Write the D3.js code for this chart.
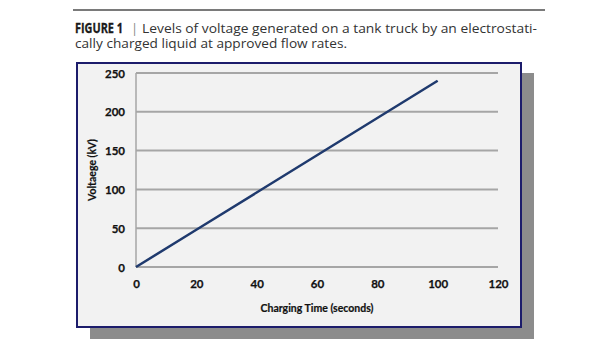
<!DOCTYPE html>
<html>
<head>
<meta charset="utf-8">
<script src="https://cdn.jsdelivr.net/npm/d3@7/dist/d3.min.js"></script>
<style>
  html, body { margin: 0; padding: 0; background: #ffffff; }
  svg { display: block; }
</style>
</head>
<body>
<svg id="chart" width="615" height="350"></svg>
<script>
// Charging time (s) and generated voltage (kV)
const chargingTime = [0, 20, 40, 60, 80, 100];
const voltage = [0, 48, 96, 144, 192, 240];
const xTicks = [0, 20, 40, 60, 80, 100, 120];
const yTicks = [0, 50, 100, 150, 200, 250];

const captionBold = "FIGURE 1";
const captionLine1 = "Levels of voltage generated on a tank truck by an electrostati-";
const captionLine2 = "cally charged liquid at approved flow rates.";
const xTitle = "Charging Time (seconds)";
const yTitle = "Voltaege (kV)";

const svg = d3.select("#chart");

// Rule above the caption
svg.append("line")
  .attr("x1", 73).attr("x2", 545).attr("y1", 10).attr("y2", 10)
  .attr("stroke", "#7a7a7a").attr("stroke-width", 2);

// Caption
const cap = svg.append("g").attr("font-family", "'Open Sans', sans-serif").attr("fill", "#333");
cap.append("text").attr("x", 75).attr("y", 33)
  .attr("font-weight", 700).attr("font-size", 13.5).attr("fill", "#1a1a1a")
  .attr("stroke", "#1a1a1a").attr("stroke-width", 0.3)
  .attr("textLength", 48).attr("lengthAdjust", "spacingAndGlyphs")
  .text(captionBold);
cap.append("text").attr("x", 131).attr("y", 33).attr("font-size", 13).attr("fill", "#888").text("|");
cap.append("text").attr("x", 142).attr("y", 33).attr("font-size", 13.5)
  .attr("textLength", 395).attr("lengthAdjust", "spacingAndGlyphs")
  .text(captionLine1);
cap.append("text").attr("x", 75).attr("y", 48).attr("font-size", 13.5)
  .attr("textLength", 272).attr("lengthAdjust", "spacingAndGlyphs")
  .text(captionLine2);

// Chart frame with drop shadow
const frame = { x: 77, y: 63, w: 444, h: 264 };
svg.append("rect")
  .attr("x", frame.x + 13).attr("y", frame.y + 10)
  .attr("width", frame.w).attr("height", frame.h + 2)
  .attr("fill", "#8c8c8c");
svg.append("rect")
  .attr("x", frame.x).attr("y", frame.y)
  .attr("width", frame.w).attr("height", frame.h)
  .attr("fill", "#f2f2f2")
  .attr("stroke", "#1c1c6b").attr("stroke-width", 2);

// Scales
const x = d3.scaleLinear().domain([0, 120]).range([136, 498]);
const y = d3.scaleLinear().domain([0, 250]).range([267, 73]);

// Horizontal gridlines
svg.append("g")
  .selectAll("line").data(yTicks).join("line")
  .attr("x1", x(0)).attr("x2", x(120))
  .attr("y1", d => y(d)).attr("y2", d => y(d))
  .attr("stroke", "#a6a6a6").attr("stroke-width", 2);

// Vertical axis line
svg.append("line")
  .attr("x1", x(0)).attr("x2", x(0)).attr("y1", y(250)).attr("y2", y(0))
  .attr("stroke", "#a6a6a6").attr("stroke-width", 1.5);

// Axes (labels only)
const yAxis = d3.axisLeft(y).tickValues(yTicks).tickSize(0).tickPadding(0);
const yg = svg.append("g").attr("transform", "translate(125,0)").call(yAxis);
const xAxis = d3.axisBottom(x).tickValues(xTicks).tickSize(0).tickPadding(0);
const xg = svg.append("g").attr("transform", "translate(0,280)").call(xAxis);
[yg, xg].forEach(g => {
  g.select(".domain").remove();
  g.selectAll("text")
    .attr("font-family", "Lato, 'Open Sans', sans-serif")
    .attr("font-weight", 700).attr("font-size", 11.5).attr("fill", "#111")
    .attr("stroke", "#111").attr("stroke-width", 0.25);
});
yg.selectAll("text").attr("dy", "0.35em");

// Axis titles
svg.append("text")
  .attr("x", x(60)).attr("y", 312)
  .attr("text-anchor", "middle")
  .attr("font-family", "Lato, 'Open Sans', sans-serif")
  .attr("font-weight", 700).attr("font-size", 10.5).attr("fill", "#111")
  .attr("stroke", "#111").attr("stroke-width", 0.2)
  .text(xTitle);
svg.append("text")
  .attr("transform", "translate(96,170) rotate(-90)")
  .attr("text-anchor", "middle")
  .attr("font-family", "Lato, 'Open Sans', sans-serif")
  .attr("font-weight", 700).attr("font-size", 10.5).attr("fill", "#111")
  .attr("stroke", "#111").attr("stroke-width", 0.2)
  .text(yTitle);

// Voltage line
const line = d3.line().x((d, i) => x(chargingTime[i])).y(d => y(d));
svg.append("path")
  .datum(voltage)
  .attr("d", line)
  .attr("fill", "none")
  .attr("stroke", "#1f3a6e")
  .attr("stroke-width", 2.5);
</script>
</body>
</html>
